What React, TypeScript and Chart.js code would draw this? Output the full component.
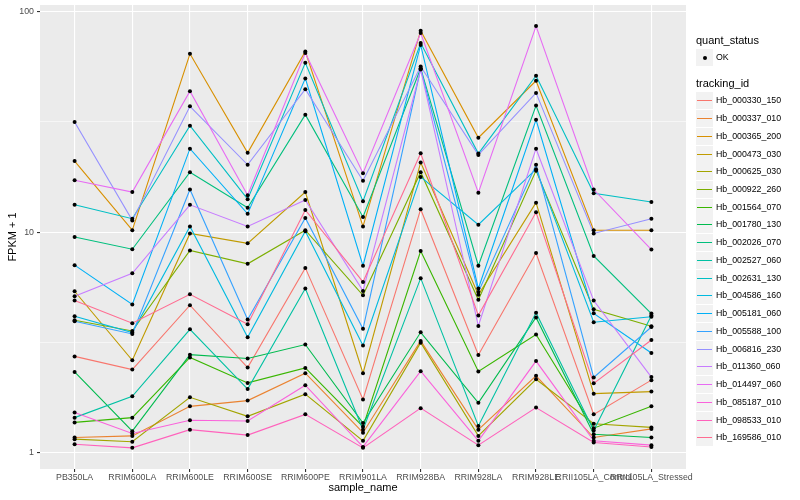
import React, { useEffect, useRef } from 'react';
import { Chart, registerables } from 'chart.js';

Chart.register(...registerables);

const categories = [
  'PB350LA', 'RRIM600LA', 'RRIM600LE', 'RRIM600SE', 'RRIM600PE', 'RRIM901LA',
  'RRIM928BA', 'RRIM928LA', 'RRIM928LE', 'RRII105LA_Control', 'RRII105LA_Stressed',
];

const seriesNames = [
  'Hb_000330_150', 'Hb_000337_010', 'Hb_000365_200', 'Hb_000473_030', 'Hb_000625_030',
  'Hb_000922_260', 'Hb_001564_070', 'Hb_001780_130', 'Hb_002026_070', 'Hb_002527_060',
  'Hb_002631_130', 'Hb_004586_160', 'Hb_005181_060', 'Hb_005588_100', 'Hb_006816_230',
  'Hb_011360_060', 'Hb_014497_060', 'Hb_085187_010', 'Hb_098533_010', 'Hb_169586_010',
];

const seriesColors = [
  '#F8766D', '#EA8331', '#D89000', '#C09B00', '#A3A500', '#7CAE00', '#39B600', '#00BB4E',
  '#00BF7D', '#00C1A3', '#00BFC4', '#00BAE0', '#00B0F6', '#35A2FF', '#9590FF', '#C77CFF',
  '#E76BF3', '#FA62DB', '#FF62BC', '#FF6C91',
];

// FPKM + 1 per sample, in category order
const hb000330_150 = [2.73, 2.38, 4.66, 2.43, 6.88, 1.74, 12.7, 2.77, 8.03, 1.49, 2.13];
const hb000337_010 = [1.17, 1.19, 1.62, 1.72, 2.29, 1.23, 3.21, 1.27, 2.23, 1.17, 1.28];
const hb000365_200 = [21.0, 10.2, 64.4, 22.9, 66.0, 10.6, 82.0, 26.8, 48.6, 10.2, 10.2];
const hb000473_030 = [5.39, 2.62, 9.86, 8.89, 15.2, 2.29, 20.7, 5.2, 13.6, 1.85, 1.89];
const hb000625_030 = [1.15, 1.12, 1.78, 1.46, 1.84, 1.13, 3.15, 1.19, 2.15, 1.35, 1.3];
const hb000922_260 = [3.98, 3.56, 8.26, 7.18, 10.2, 5.17, 18.7, 4.93, 19.0, 4.47, 3.74];
const hb001564_070 = [1.37, 1.44, 2.7, 2.07, 2.42, 1.31, 8.21, 2.33, 3.43, 1.29, 1.62];
const hb001780_130 = [2.32, 1.25, 2.78, 2.67, 3.09, 1.36, 3.51, 1.68, 4.1, 1.21, 1.17];
const hb002026_070 = [9.5, 8.36, 18.7, 12.9, 34.1, 11.7, 55.4, 7.04, 37.5, 7.8, 4.27];
const hb002527_060 = [1.44, 1.8, 3.62, 1.94, 5.55, 1.27, 6.18, 1.32, 4.31, 1.26, 4.18];
const hb002631_130 = [13.3, 11.5, 30.4, 14.1, 58.6, 13.8, 72.0, 22.7, 51.2, 15.0, 13.7];
const hb004586_160 = [4.15, 3.5, 10.6, 3.33, 10.1, 3.06, 17.8, 10.8, 19.3, 3.9, 4.13];
const hb005181_060 = [7.08, 4.7, 23.9, 12.1, 49.8, 7.04, 70.6, 5.55, 32.3, 4.28, 2.83];
const hb005588_100 = [3.94, 3.45, 15.6, 4.01, 11.6, 3.64, 55.0, 5.35, 20.2, 2.19, 3.71];
const hb006816_230 = [31.6, 11.3, 37.2, 20.2, 44.5, 17.1, 56.4, 22.4, 42.8, 9.86, 11.5];
const hb011360_060 = [5.12, 6.5, 13.3, 10.6, 14.0, 5.41, 54.6, 3.75, 23.9, 4.89, 2.2];
const hb014497_060 = [17.2, 15.2, 43.6, 14.7, 65.0, 18.5, 80.0, 15.1, 86.0, 15.6, 8.33];
const hb085187_010 = [1.52, 1.22, 1.4, 1.39, 2.02, 1.06, 2.34, 1.13, 2.6, 1.13, 1.08];
const hb098533_010 = [1.09, 1.05, 1.27, 1.2, 1.49, 1.05, 1.59, 1.08, 1.6, 1.11, 1.06];
const hb169586_010 = [4.9, 3.86, 5.22, 3.82, 12.6, 5.94, 22.8, 4.19, 12.3, 2.06, 3.24];

const seriesValues = [
  hb000330_150, hb000337_010, hb000365_200, hb000473_030, hb000625_030,
  hb000922_260, hb001564_070, hb001780_130, hb002026_070, hb002527_060,
  hb002631_130, hb004586_160, hb005181_060, hb005588_100, hb006816_230,
  hb011360_060, hb014497_060, hb085187_010, hb098533_010, hb169586_010,
];

const yMajorTicks = [1, 10, 100];
const yMinorTicks = [3.1623, 31.623];

const FONT = '"Liberation Sans", Arial, Helvetica, sans-serif';

const isMajor = (v: number) => yMajorTicks.some((m) => Math.abs(v - m) < 1e-6 * m);

const panelBg = {
  id: 'panelBg',
  beforeDraw(chart: any) {
    const { ctx, chartArea: a } = chart;
    ctx.save();
    ctx.fillStyle = '#EBEBEB';
    ctx.fillRect(a.left, a.top, a.right - a.left, a.bottom - a.top);
    ctx.restore();
  },
};

function Legend() {
  const keyTop0 = 92.3;
  const step = 17.74;
  const text: React.CSSProperties = {
    position: 'absolute',
    fontFamily: FONT,
    whiteSpace: 'nowrap',
    lineHeight: 1,
  };
  return (
    <>
      <div style={{ ...text, left: 696, top: 35, fontSize: 11, color: '#000' }}>quant_status</div>
      <div style={{ position: 'absolute', left: 696, top: 49, width: 17, height: 17, background: '#F2F2F2' }}>
        <div style={{ position: 'absolute', left: 6.5, top: 6.5, width: 4, height: 4, borderRadius: 2, background: '#000' }} />
      </div>
      <div style={{ ...text, left: 716, top: 53, fontSize: 8.8, color: '#000' }}>OK</div>
      <div style={{ ...text, left: 696, top: 78, fontSize: 11, color: '#000' }}>tracking_id</div>
      {seriesNames.map((name, i) => {
        const top = Math.round(keyTop0 + i * step);
        return (
          <React.Fragment key={name}>
            <div style={{ position: 'absolute', left: 696, top, width: 17, height: 17, background: '#F2F2F2' }}>
              <div style={{ position: 'absolute', left: 1, top: 8, width: 15, height: 1, background: seriesColors[i] }} />
            </div>
            <div style={{ ...text, left: 716, top: top + 4, fontSize: 8.8, color: '#000' }}>{name}</div>
          </React.Fragment>
        );
      })}
    </>
  );
}

export default function App() {
  const canvasRef = useRef<HTMLCanvasElement | null>(null);

  useEffect(() => {
    if (!canvasRef.current) return;
    Chart.defaults.font.family = FONT;

    const n = seriesValues.length;
    const lineDatasets = seriesValues.map((vals, i) => ({
      type: 'line' as const,
      label: seriesNames[i],
      data: vals.map((v, j) => ({ x: j, y: v })),
      borderColor: seriesColors[i],
      backgroundColor: seriesColors[i],
      borderWidth: 1.1,
      pointRadius: 0,
      fill: false,
      tension: 0,
      order: n - i,
    }));
    const pointDataset = {
      type: 'line' as const,
      label: 'OK',
      data: seriesValues.flatMap((vals) => vals.map((v, j) => ({ x: j, y: v }))),
      showLine: false,
      pointRadius: 2,
      pointBorderWidth: 0,
      pointBackgroundColor: '#000000',
      pointBorderColor: '#000000',
      order: 0,
    };

    const chart = new Chart(canvasRef.current, {
      type: 'line',
      data: { datasets: [...lineDatasets, pointDataset] as any },
      plugins: [panelBg],
      options: {
        animation: false,
        responsive: false,
        events: [],
        layout: { padding: { left: 0, top: 5, right: 114, bottom: 0 } },
        plugins: { legend: { display: false }, tooltip: { enabled: false } },
        scales: {
          x: {
            type: 'linear',
            min: -0.6,
            max: 10.6,
            afterBuildTicks: (s: any) => {
              s.ticks = categories.map((_, i) => ({ value: i }));
            },
            afterFit: (s: any) => {
              s.height = 31;
              s.paddingLeft = 0;
              s.paddingRight = 0;
            },
            ticks: {
              autoSkip: false,
              maxRotation: 0,
              minRotation: 0,
              padding: 0,
              color: '#4D4D4D',
              font: { size: 8.8, family: FONT },
              callback: (v: any) => categories[Math.round(Number(v))] ?? '',
            },
            grid: { color: '#FFFFFF', lineWidth: 1.1, tickLength: 3, tickColor: '#333333', drawTicks: true },
            border: { display: false },
            title: {
              display: true,
              text: 'sample_name',
              color: '#000000',
              font: { size: 11, family: FONT },
              padding: { top: 0, bottom: 5 },
            },
          },
          y: {
            type: 'logarithmic',
            min: 0.842,
            max: 107.2,
            afterBuildTicks: (s: any) => {
              s.ticks = [...yMajorTicks, ...yMinorTicks].sort((a, b) => a - b).map((v) => ({ value: v }));
            },
            afterFit: (s: any) => {
              s.width = 40;
              s.paddingTop = 0;
              s.paddingBottom = 0;
            },
            ticks: {
              autoSkip: false,
              padding: 3,
              color: '#4D4D4D',
              font: { size: 8.8, family: FONT },
              callback: (v: any) => (isMajor(Number(v)) ? String(Math.round(Number(v))) : ''),
            },
            grid: {
              color: '#FFFFFF',
              lineWidth: (c: any) => (c.tick && isMajor(c.tick.value) ? 1.1 : 0.55),
              tickColor: (c: any) => (c.tick && isMajor(c.tick.value) ? '#333333' : 'rgba(0,0,0,0)'),
              tickLength: 3,
              drawTicks: true,
            },
            border: { display: false },
            title: {
              display: true,
              text: 'FPKM + 1',
              color: '#000000',
              font: { size: 11, family: FONT },
              padding: { top: 6, bottom: 0 },
            },
          },
        },
      } as any,
    });

    return () => chart.destroy();
  }, []);

  return (
    <div style={{ position: 'fixed', left: 0, top: 0, width: 800, height: 500, background: '#FFFFFF' }}>
      <canvas ref={canvasRef} width={800} height={500} style={{ width: 800, height: 500, display: 'block' }} />
      <Legend />
    </div>
  );
}
